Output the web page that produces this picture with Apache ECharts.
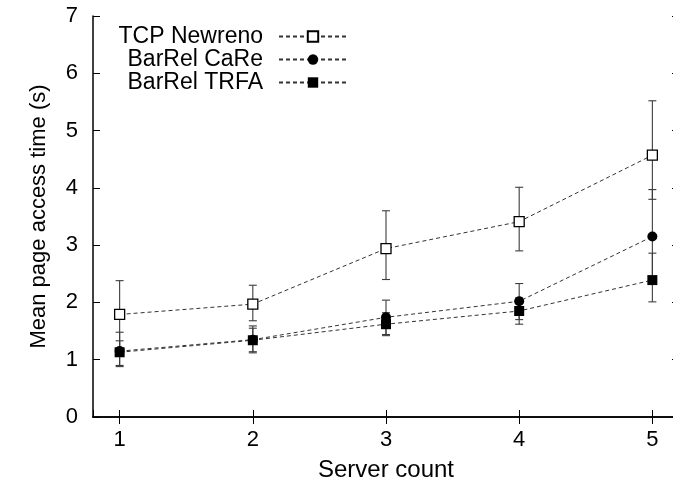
<!DOCTYPE html>
<html>
<head>
<meta charset="utf-8">
<script src="https://cdn.jsdelivr.net/npm/echarts@6/dist/echarts.min.js"></script>
<style>
  html, body { margin: 0; padding: 0; background: #fff; }
  #chart { width: 673px; height: 493px; }
</style>
</head>
<body>
<div id="chart"></div>
<script>
// Mean page access time per number of servers, with error ranges
const serverCounts = [1, 2, 3, 4, 5];
const seriesNames = ['TCP Newreno', 'BarRel CaRe', 'BarRel TRFA'];

const newrenoMean = [1.79, 1.97, 2.94, 3.41, 4.57];
const newrenoLow  = [1.20, 1.68, 2.40, 2.90, 3.80];
const newrenoHigh = [2.38, 2.30, 3.60, 4.01, 5.52];

const careMean = [1.15, 1.35, 1.74, 2.02, 3.15];
const careLow  = [0.90, 1.14, 1.44, 1.70, 2.35];
const careHigh = [1.33, 1.55, 2.04, 2.33, 3.97];

const trfaMean = [1.13, 1.34, 1.62, 1.85, 2.39];
const trfaLow  = [0.88, 1.12, 1.42, 1.62, 2.01];
const trfaHigh = [1.48, 1.59, 1.82, 2.08, 2.86];

const yTicks = [0, 1, 2, 3, 4, 5, 6, 7];

const FONT = 'Liberation Sans, Arial, Helvetica, sans-serif';
const chart = echarts.init(document.getElementById('chart'), null, { renderer: 'canvas' });

function errorBars(lows, highs) {
  return {
    type: 'custom',
    silent: true,
    z: 1,
    data: serverCounts.map((x, i) => [x, lows[i], highs[i]]),
    encode: { x: 0, y: [1, 2] },
    renderItem(params, api) {
      const x = api.value(0);
      const lo = api.coord([x, api.value(1)]);
      const hi = api.coord([x, api.value(2)]);
      const w = 4;
      const style = { stroke: '#3c3c3c', lineWidth: 1.1, fill: null };
      return {
        type: 'group',
        children: [
          { type: 'line', shape: { x1: lo[0], y1: lo[1], x2: hi[0], y2: hi[1] }, style },
          { type: 'line', shape: { x1: hi[0] - w, y1: hi[1], x2: hi[0] + w, y2: hi[1] }, style },
          { type: 'line', shape: { x1: lo[0] - w, y1: lo[1], x2: lo[0] + w, y2: lo[1] }, style }
        ]
      };
    }
  };
}

function meanLine(name, values, symbol, symbolSize, fill) {
  return {
    type: 'line',
    name,
    z: 3,
    data: serverCounts.map((x, i) => [x, values[i]]),
    symbol,
    symbolSize,
    showAllSymbol: true,
    lineStyle: { color: '#333', width: 1, type: [4, 3] },
    itemStyle: { color: fill, borderColor: '#000', borderWidth: symbol === 'rect' && fill === '#fff' ? 1.3 : 0 },
    emphasis: { disabled: true },
    animation: false
  };
}

const axisLine = { show: true, lineStyle: { color: '#000', width: 1.5 } };
const inTicks = { show: true, inside: true, length: 7, lineStyle: { color: '#000', width: 1 } };

chart.setOption({
  backgroundColor: '#fff',
  animation: false,
  textStyle: { fontFamily: FONT },
  grid: { left: 93, top: 16, width: 586, height: 401, containLabel: false, outerBoundsMode: 'none' },
  legend: {
    data: seriesNames,
    orient: 'vertical',
    align: 'right',
    right: 320,
    top: 20,
    itemWidth: 68,
    itemHeight: 13,
    itemGap: 0,
    selectedMode: false,
    textStyle: { fontFamily: FONT, fontSize: 23, color: '#000', padding: [0, 11, 0, 0] }
  },
  xAxis: [
    {
      type: 'value', min: 0.8, max: 5.2, position: 'bottom',
      name: 'Server count', nameLocation: 'middle', nameGap: 41,
      nameTextStyle: { fontFamily: FONT, fontSize: 24, color: '#000' },
      axisLine, axisTick: inTicks,
      axisLabel: {
        fontFamily: FONT, fontSize: 22, color: '#000', margin: 12,
        customValues: serverCounts, formatter: v => String(v)
      },
      splitLine: { show: false }
    },
    {
      type: 'value', min: 0.8, max: 5.2, position: 'top',
      axisLine, axisTick: Object.assign({ customValues: serverCounts }, inTicks),
      axisLabel: { show: false }, splitLine: { show: false }
    }
  ],
  yAxis: [
    {
      type: 'value', min: 0, max: 7, interval: 1, position: 'left',
      name: 'Mean page access time (s)', nameLocation: 'middle', nameGap: 43,
      nameTextStyle: { fontFamily: FONT, fontSize: 22, color: '#000' },
      axisLine, axisTick: inTicks,
      axisLabel: { fontFamily: FONT, fontSize: 22, color: '#000', margin: 15, customValues: yTicks },
      splitLine: { show: false }
    },
    {
      type: 'value', min: 0, max: 7, interval: 1, position: 'right',
      axisLine, axisTick: inTicks,
      axisLabel: { show: false }, splitLine: { show: false }
    }
  ],
  series: [
    errorBars(newrenoLow, newrenoHigh),
    errorBars(careLow, careHigh),
    errorBars(trfaLow, trfaHigh),
    meanLine(seriesNames[0], newrenoMean, 'rect', 10, '#fff'),
    meanLine(seriesNames[1], careMean, 'circle', 10, '#000'),
    meanLine(seriesNames[2], trfaMean, 'rect', 10, '#000')
  ]
});
</script>
</body>
</html>
